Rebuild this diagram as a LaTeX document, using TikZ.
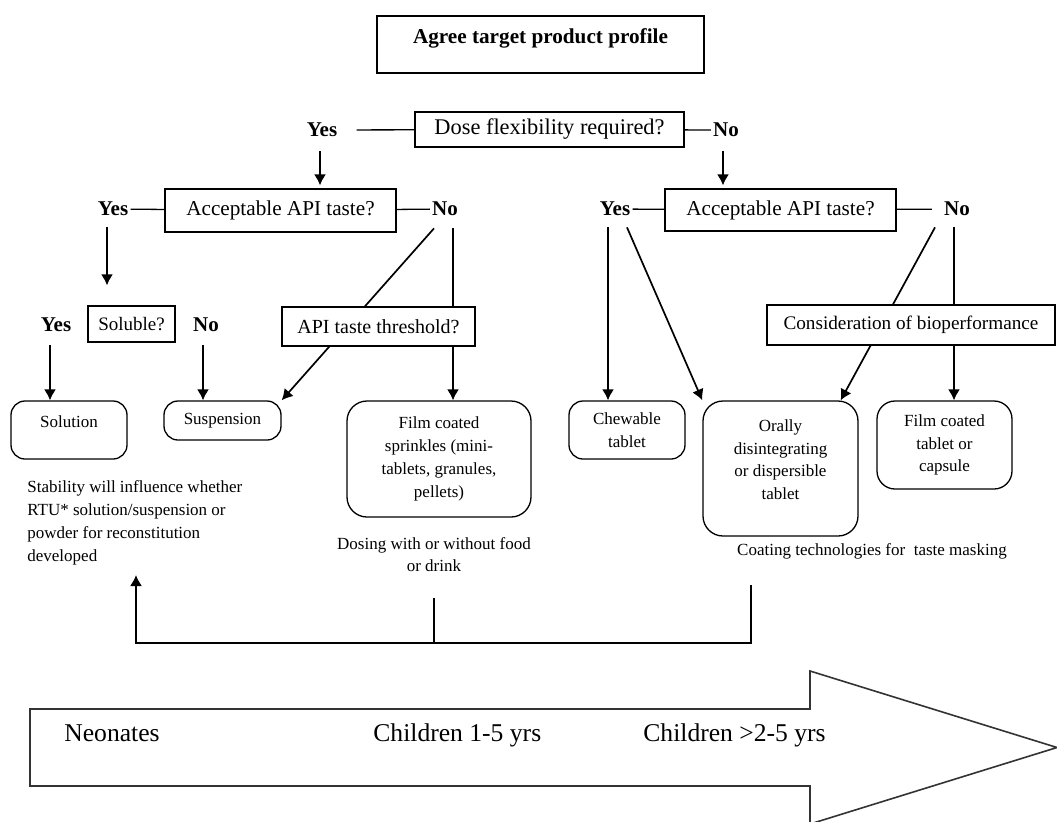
\documentclass[tikz,border=0pt]{standalone}
\usepackage{fontspec}
\setmainfont{Liberation Serif}
\usetikzlibrary{arrows.meta,backgrounds,calc}

\begin{document}
\begin{tikzpicture}[x=0.5pt,y=-0.5pt]
 \tikzstyle{quest}=[rectangle, draw, fill=white, line width=0.65pt, inner sep=0pt, font=\fontsize{10.6}{12}\selectfont]
 \tikzstyle{forme}=[rectangle, rounded corners=7pt, draw, fill=white, line width=0.65pt, inner sep=0pt, align=center, font=\fontsize{8.5}{11.4}\selectfont]
 \tikzstyle{rep}=[inner sep=1pt, font=\fontsize{10.5}{12}\selectfont\bfseries]
 \tikzstyle{note}=[inner sep=0pt, font=\fontsize{8.5}{11.4}\selectfont]
 \tikzstyle{age}=[inner sep=0pt, font=\fontsize{12.8}{14}\selectfont]
 \tikzstyle{fleche}=[-{Latex[length=5.5pt,width=6pt]}, line width=0.85pt]
 \tikzstyle{trait}=[line width=0.65pt]
 %
 \useasboundingbox (0,0) rectangle (1057,821);
 %
 \node[quest, minimum width=163.5pt, minimum height=28.5pt, text depth=8pt, font=\fontsize{10.6}{12}\selectfont\bfseries] (agree) at (540.5,44.5) {Agree target product profile};
 \node[quest, minimum width=134.5pt, minimum height=17.5pt, font=\fontsize{11.2}{13}\selectfont] (dose) at (549.5,129.5) {Dose flexibility required?};
 \node[rep] (yes0) at (322,130) {Yes};
 \node[rep] (no0) at (726,130) {No};
 %
 \node[quest, minimum width=115.5pt, minimum height=21.5pt] (tasteL) at (280.5,210.5) {Acceptable API taste?};
 \node[rep] (yesL) at (113,209) {Yes};
 \node[rep] (noL) at (445,209) {No};
 \node[quest, minimum width=115.5pt, minimum height=21pt] (tasteR) at (780.5,210) {Acceptable API taste?};
 \node[rep] (yesR) at (615,209) {Yes};
 \node[rep] (noR) at (957,209) {No};
 %
 \node[quest, minimum width=43.5pt, minimum height=18pt, font=\fontsize{9.5}{11}\selectfont] (soluble) at (131.5,324) {Soluble?};
 \node[rep] (yesS) at (56,325) {Yes};
 \node[rep] (noS) at (206,325) {No};
 \node[quest, minimum width=96.5pt, minimum height=19.5pt, font=\fontsize{10}{12}\selectfont] (seuil) at (378.5,326.5) {API taste threshold?};
 \node[quest, minimum width=144pt, minimum height=20pt, font=\fontsize{9.6}{12}\selectfont] (bioperf) at (911,325) {Consideration of bioperformance};
 %
 \node[forme, minimum width=58pt, minimum height=29pt, text depth=8pt] (solution) at (69,430) {Solution};
 \node[forme, minimum width=58.5pt, minimum height=19.5pt] (suspension) at (222.5,420.5) {Suspension};
 \node[forme, rounded corners=10pt, minimum width=92pt, minimum height=58pt] (sprinkles) at (439,459) {Film coated\\sprinkles (mini-\\tablets, granules,\\pellets)};
 \node[forme, minimum width=58pt, minimum height=29pt] (chewable) at (627,430) {Chewable\\tablet};
 \node[forme, rounded corners=10pt, minimum width=77.5pt, minimum height=67.5pt, text depth=9pt] (odt) at (780.5,468.5) {Orally\\disintegrating\\or dispersible\\tablet};
 \node[forme, rounded corners=9pt, minimum width=67.5pt, minimum height=44pt] (filmtab) at (944.5,445) {Film coated\\tablet or\\capsule};
 %
 \node[note, anchor=west, align=left] (stabilite) at (27,523) {Stability will influence whether\\RTU* solution/suspension or\\powder for reconstitution\\developed};
 \node[note, align=center] (dosage) at (434,554.5) {Dosing with or without food\\or drink};
 \node[note] (enrobage) at (872,551) {Coating technologies for\ \ taste masking};
 %%
 \draw[trait, shorten <=8.5pt] (yes0) -- (dose);
 \draw[trait] (dose) -- (no0);
 \draw[fleche, shorten <=6pt, shorten >=1.5pt] ($(yes0.south)+(-1pt,0)$) -- ($(yes0.south |- tasteL.north)+(-1pt,0)$);
 \draw[fleche, shorten <=6pt, shorten >=1.5pt] ($(no0.south)+(-1.5pt,0)$) -- ($(no0.south |- tasteR.north)+(-1.5pt,0)$);
 %
 \draw[trait] (yesL) -- (tasteL);
 \draw[trait] (tasteL) -- (noL);
 \draw[fleche, shorten <=4.5pt, shorten >=10pt] ($(yesL.south)+(-3pt,0)$) -- ($(yesL.south |- soluble.north)+(-3pt,0)$);
 \draw[fleche, shorten <=5.5pt] ($(yesS.south)+(-3pt,0)$) -- ($(yesS.south |- solution.north)+(-3pt,0)$);
 \draw[fleche, shorten <=5.5pt] ($(noS.south)+(-1.5pt,0)$) -- ($(noS.south |- suspension.north)+(-1.5pt,0)$);
 %
 \draw[trait] (yesR) -- (tasteR);
 \draw[trait, shorten >=5pt] (tasteR) -- (noR);
 \draw[fleche, shorten <=4.5pt] ($(yesR.south)+(-3.5pt,0)$) -- ($(yesR.south |- chewable.north)+(-3.5pt,0)$);
 \draw[fleche] ($(yesR.south)+(6pt,-4.5pt)$) -- (odt.north west);
 %
 \begin{scope}[on background layer]
  \draw[fleche] ($(noL.south)+(-5.5pt,-5pt)$) -- (suspension.north east);
  \draw[fleche, shorten <=5pt] ($(noL.south)+(4pt,0)$) -- ($(noL.south |- sprinkles.north)+(4pt,0)$);
  \draw[fleche] ($(noR.south)+(-11pt,-4.5pt)$) -- ($(odt.north east)+(-9pt,0)$);
  \draw[fleche, shorten <=4.5pt] ($(noR.south)+(-1.5pt,0)$) -- ($(noR.south |- filmtab.north)+(-1.5pt,0)$);
 \end{scope}
 %
 \coordinate (retL) at (136,575);
 \coordinate (retM) at (434,598);
 \coordinate (retR) at (751,585);
 \draw[fleche] (retR) -- ++(0,58) -| (retL);
 \draw[trait] (retM) -- (retM |- 0,643);
 %
 \draw[line width=0.8pt, draw=black!80] (30,709) -- (810,709) -- (810,671) -- (1057,747.5) -- (810,824) -- (810,786) -- (30,786) -- cycle;
 \node[age, anchor=base west] (neonates) at (64,741) {Neonates};
 \node[age, anchor=base west] (enfants1) at (373,741) {Children 1-5 yrs};
 \node[age, anchor=base west] (enfants2) at (643,741) {Children >2-5 yrs};
\end{tikzpicture}
\end{document}
